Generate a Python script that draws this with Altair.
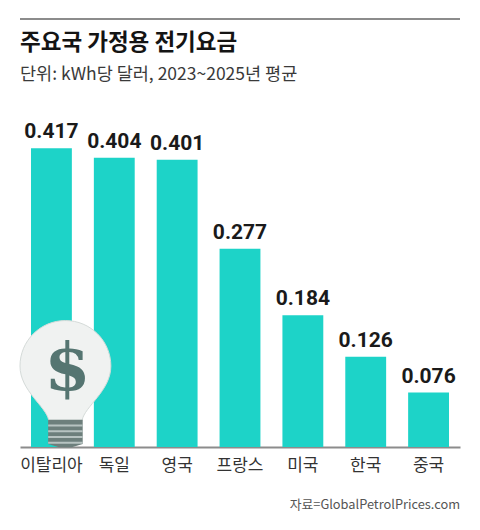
import altair as alt
import pandas as pd

countries = ["이탈리아", "독일", "영국", "프랑스", "미국", "한국", "중국"]
prices = [0.417, 0.404, 0.401, 0.277, 0.184, 0.126, 0.076]
price_labels = ["0.417", "0.404", "0.401", "0.277", "0.184", "0.126", "0.076"]

title_text = ["주요국 가정용 전기요금"]
subtitle_text = ["단위: kWh당 달러, 2023~2025년 평균"]
source_text = ["자료=GlobalPetrolPrices.com"]

# decorative light bulb drawn over the first bar
bulb_country = ["이탈리아"]
bulb_level = [0.089]
dollar_level = [0.108]

KR = "Noto Sans CJK KR"
NUM = "Roboto"
BAR = "#1dd3c8"

df = pd.DataFrame({"country": countries, "price": prices, "label": price_labels})
bulb_df = pd.DataFrame({"country": bulb_country, "level": bulb_level, "dlevel": dollar_level, "sign": ["$"]})

x = alt.X(
    "country:N",
    sort=countries,
    scale=alt.Scale(paddingInner=0.35, paddingOuter=0.175),
    axis=alt.Axis(
        title=None, labelAngle=0, ticks=False, domainColor="#8c8c8c", domainWidth=2,
        labelFontSize=17, labelColor="#333333", labelFont=KR, labelPadding=10,
        labelBaseline="top",
    ),
)
yscale = alt.Scale(domain=[0, 0.613], nice=False, zero=True)

bars = alt.Chart(df).mark_bar(color=BAR).encode(
    x=x, y=alt.Y("price:Q", scale=yscale, axis=None)
)
values = alt.Chart(df).mark_text(
    font=NUM, fontSize=21, fontWeight="bold", color="#1a1a1a", baseline="alphabetic", dy=-10
).encode(x=x, y=alt.Y("price:Q", scale=yscale, axis=None), text="label:N")

glass_path = ("M -0.26 0.58 C -0.3 0.36 -0.71 0.12 -0.71 -0.27 "
              "A 0.71 0.71 0 1 1 0.71 -0.27 C 0.71 0.12 0.3 0.36 0.26 0.58 Z")
base_path = "M -0.27 0.57 L 0.27 0.57 L 0.27 0.95 L 0.1 1 L -0.1 1 L -0.27 0.95 Z"
stripe_path = ("M -0.27 0.66 L 0.27 0.66 M -0.27 0.75 L 0.27 0.75 "
               "M -0.27 0.84 L 0.27 0.84 M -0.27 0.93 L 0.27 0.93")

glass = alt.Chart(bulb_df).mark_point(
    shape=glass_path, filled=True, size=16384, fill="#f0f2f1", stroke="#d5dbd9",
    strokeWidth=1, opacity=1, xOffset=14,
).encode(x=x, y=alt.Y("level:Q", scale=yscale, axis=None))
base = alt.Chart(bulb_df).mark_point(
    shape=base_path, filled=True, size=16384, fill="#6d7f7c", opacity=1, xOffset=14,
).encode(x=x, y=alt.Y("level:Q", scale=yscale, axis=None))
stripes = alt.Chart(bulb_df).mark_point(
    shape=stripe_path, filled=False, size=16384, stroke="#b7c3c1", strokeWidth=2, opacity=1, xOffset=14,
).encode(x=x, y=alt.Y("level:Q", scale=yscale, axis=None))
dollar = alt.Chart(bulb_df).mark_text(
    font="DejaVu Serif", fontSize=66, fontWeight="bold", color="#557571", baseline="middle", xOffset=16,
).encode(x=x, y=alt.Y("dlevel:Q", scale=yscale, axis=None), text="sign:N")

top_rule = alt.Chart(pd.DataFrame({"a": [0]})).mark_rect(color="#8c8c8c").encode(
    x=alt.value(0), x2=alt.value(440), y=alt.value(10), y2=alt.value(12)
)
title = alt.Chart(pd.DataFrame({"t": title_text})).mark_text(
    font=KR, fontSize=22.5, fontWeight="bold", color="#141414", align="left", baseline="middle"
).encode(x=alt.value(0), y=alt.value(35), text="t:N")
subtitle = alt.Chart(pd.DataFrame({"t": subtitle_text})).mark_text(
    font=KR, fontSize=17.5, color="#3a3a3a", align="left", baseline="middle"
).encode(x=alt.value(0), y=alt.value(67), text="t:N")
source = alt.Chart(pd.DataFrame({"t": source_text})).mark_text(
    font=KR, fontSize=12.8, color="#555555", align="right", baseline="middle"
).encode(x=alt.value(440), y=alt.value(497), text="t:N")

chart = alt.layer(
    bars, values, glass, base, stripes, dollar, top_rule, title, subtitle, source
).properties(
    width=440, height=439,
    padding={"left": 12, "top": 0, "right": 4, "bottom": 68},
    autosize=alt.AutoSizeParams(type="none"),
    background="white",
).configure_view(strokeWidth=0)

chart.save("out.html", embed_options={"renderer": "svg", "actions": False})
